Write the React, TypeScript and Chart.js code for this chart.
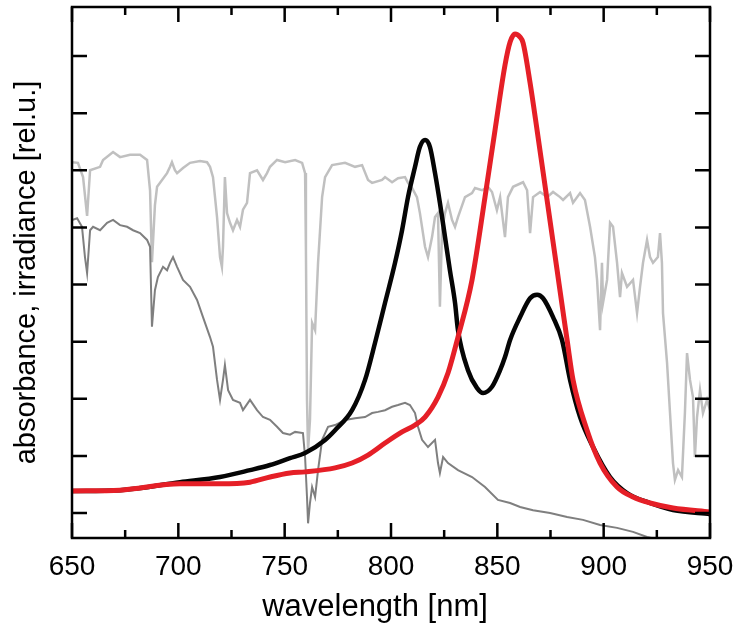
import React, { useEffect, useRef } from "react";
import { Chart, registerables } from "chart.js";

Chart.register(...registerables);

// ---- data (wavelength in nm, value in relative units; y ticks at 0..8) ----
const X_MAJOR = [650, 700, 750, 800, 850, 900, 950];
const X_MINOR = [675, 725, 775, 825, 875, 925];
const Y_TICKS = [0, 1, 2, 3, 4, 5, 6, 7, 8];

const redX = [650, 672.6, 700.8, 719.6, 733.7, 743.1, 752.5, 759.6, 773.7, 781.7, 789.2, 797.2, 805.2, 811.3, 816.0, 822.1, 826.8, 831.5, 838.1, 844.2, 848.9, 853.6, 856.0, 858.3, 860.7, 862.1, 865.4, 868.7, 871.5, 874.8, 878.1, 880.9, 882.8, 885.6, 892.2, 898.3, 906.3, 913.8, 921.8, 932.6, 950];
const redY = [0.385, 0.40, 0.51, 0.51, 0.54, 0.63, 0.70, 0.72, 0.79, 0.875, 1.015, 1.225, 1.42, 1.54, 1.68, 2.03, 2.45, 3.08, 4.08, 5.53, 6.70, 7.84, 8.245, 8.385, 8.33, 8.23, 7.53, 6.70, 5.97, 5.11, 4.25, 3.52, 3.03, 2.33, 1.45, 0.875, 0.455, 0.28, 0.175, 0.0875, 0.0175];

const blackX = [650, 672.6, 700.8, 719.6, 733.7, 743.1, 752.5, 759.6, 769.0, 773.7, 781.7, 787.8, 792.5, 797.2, 801.9, 805.2, 808.0, 811.3, 813.6, 816.0, 818.3, 820.7, 823.0, 825.4, 827.7, 830.1, 831.5, 836.2, 840.4, 843.3, 847.5, 851.3, 853.6, 856.0, 860.7, 865.4, 868.7, 871.5, 876.2, 880.4, 884.2, 888.9, 895.0, 903.0, 911.0, 921.8, 932.6, 950];
const blackY = [0.385, 0.40, 0.54, 0.63, 0.75, 0.84, 0.96, 1.05, 1.28, 1.45, 1.80, 2.33, 2.98, 3.68, 4.38, 4.95, 5.53, 6.06, 6.41, 6.53, 6.41, 5.95, 5.43, 4.83, 4.25, 3.68, 3.20, 2.50, 2.19, 2.10, 2.21, 2.50, 2.73, 3.03, 3.43, 3.76, 3.82, 3.76, 3.43, 3.03, 2.33, 1.68, 1.155, 0.63, 0.35, 0.175, 0.05, -0.02];

const lightX = [650.0, 652.8, 655.2, 657.1, 658.5, 663.2, 664.6, 669.3, 672.6, 677.3, 682.0, 685.3, 686.7, 687.6, 689.0, 690.0, 691.4, 694.7, 696.1, 697.0, 698.4, 699.4, 702.2, 705.5, 710.2, 713.5, 714.9, 716.3, 718.2, 719.6, 720.5, 721.0, 721.9, 722.9, 724.3, 725.7, 727.6, 729.0, 730.4, 732.3, 733.7, 737.0, 739.8, 741.7, 743.1, 746.4, 750.2, 754.9, 758.2, 759.6, 760.0, 760.5, 761.0, 761.9, 762.9, 764.3, 765.7, 767.6, 769.0, 772.3, 778.4, 783.1, 786.4, 789.2, 791.1, 795.8, 797.2, 800.5, 803.3, 806.6, 808.0, 809.9, 812.2, 813.6, 816.0, 817.4, 819.3, 820.7, 822.1, 823.0, 824.0, 825.4, 826.8, 828.7, 830.1, 831.5, 834.8, 838.1, 839.5, 842.8, 845.6, 847.5, 849.8, 851.3, 853.6, 855.0, 857.4, 862.1, 864.0, 865.4, 866.8, 870.1, 873.4, 876.2, 879.5, 880.9, 884.2, 885.6, 888.9, 891.2, 893.6, 895.9, 896.9, 898.3, 899.2, 899.7, 901.6, 903.0, 904.4, 906.3, 907.7, 908.6, 911.0, 913.8, 915.7, 917.1, 918.5, 920.4, 921.8, 923.2, 925.5, 926.5, 927.4, 927.9, 929.8, 931.2, 932.6, 933.5, 935.0, 936.8, 938.2, 939.2, 940.6, 942.0, 942.9, 943.9, 945.3, 946.7, 948.6, 950.0];
const lightY = [6.14, 6.13, 5.88, 5.2, 6.00, 6.06, 6.18, 6.32, 6.23, 6.27, 6.27, 6.18, 5.65, 4.39, 5.39, 5.71, 5.78, 5.95, 6.06, 6.14, 6.00, 5.95, 6.04, 6.13, 6.16, 6.14, 6.06, 5.88, 5.18, 4.48, 4.31, 4.66, 5.88, 5.25, 5.08, 4.95, 5.13, 5.01, 5.31, 5.43, 5.95, 6.00, 5.83, 5.95, 6.06, 6.18, 6.14, 6.18, 6.13, 5.95, 4.60, 1.98, 1.10, 1.63, 3.33, 3.20, 4.38, 5.53, 5.88, 6.09, 6.13, 6.06, 6.09, 5.83, 5.78, 5.83, 5.88, 5.79, 5.86, 5.88, 5.78, 5.69, 5.53, 5.25, 4.66, 4.48, 4.83, 5.18, 5.25, 3.61, 4.95, 5.25, 5.43, 5.13, 5.01, 5.18, 5.53, 5.60, 5.69, 5.65, 5.71, 5.62, 5.30, 5.53, 4.83, 5.53, 5.71, 5.79, 5.65, 4.90, 5.53, 5.62, 5.53, 5.62, 5.53, 5.48, 5.60, 5.43, 5.60, 5.48, 5.01, 4.48, 4.08, 3.20, 4.38, 3.68, 4.08, 5.08, 5.01, 4.38, 3.78, 4.20, 3.96, 4.08, 3.50, 3.96, 4.38, 4.78, 4.48, 4.38, 4.48, 4.90, 4.38, 3.50, 2.63, 1.75, 0.875, 0.58, 0.75, 0.63, 1.75, 2.80, 2.33, 2.03, 0.98, 1.68, 2.15, 1.75, 1.98, 1.80];

const darkX = [650.0, 652.4, 654.7, 656.1, 657.1, 658.5, 659.9, 663.2, 666.5, 669.3, 672.6, 675.9, 678.7, 682.0, 685.3, 686.7, 687.6, 689.0, 690.4, 692.8, 694.7, 696.1, 697.5, 699.4, 702.2, 705.5, 708.8, 711.6, 714.9, 716.3, 718.2, 719.6, 721.0, 721.9, 723.4, 725.7, 729.0, 730.4, 733.7, 737.0, 739.8, 743.1, 746.4, 749.2, 752.5, 754.9, 758.6, 759.6, 760.5, 761.0, 761.9, 762.9, 764.3, 765.7, 767.6, 770.4, 773.7, 778.4, 783.1, 787.8, 791.1, 793.9, 797.2, 800.5, 803.3, 806.6, 808.9, 811.3, 812.7, 814.6, 817.4, 820.7, 822.1, 823.0, 824.5, 826.8, 831.5, 838.1, 844.2, 850.3, 856.0, 860.7, 866.8, 874.8, 882.8, 890.3, 898.3, 906.3, 913.8, 920.4, 926.5];
const darkY = [5.13, 5.16, 5.01, 4.48, 4.20, 4.95, 5.01, 4.95, 5.08, 5.13, 5.04, 5.01, 4.95, 4.90, 4.78, 4.66, 3.26, 3.90, 4.13, 4.31, 4.25, 4.38, 4.48, 4.31, 4.08, 3.96, 3.73, 3.43, 3.08, 2.91, 2.33, 1.98, 2.33, 2.59, 2.15, 1.98, 1.93, 1.80, 1.98, 1.80, 1.68, 1.63, 1.51, 1.40, 1.37, 1.42, 1.40, 0.98, 0.28, -0.18, 0.175, 0.455, 0.28, 0.75, 1.28, 1.51, 1.54, 1.63, 1.66, 1.68, 1.75, 1.77, 1.80, 1.86, 1.89, 1.93, 1.89, 1.75, 1.51, 1.28, 1.155, 1.28, 0.875, 0.70, 0.98, 0.875, 0.75, 0.63, 0.455, 0.23, 0.175, 0.105, 0.05, 0.0, -0.07, -0.12, -0.21, -0.26, -0.33, -0.42, -0.47];

const X_TITLE = "wavelength [nm]";
const Y_TITLE = "absorbance, irradiance [rel.u.]";

const FONT_FAMILY = "'Liberation Sans', Arial, sans-serif";

function pts(xs: number[], ys: number[]) {
  return xs.map((x, i) => ({ x, y: ys[i] }));
}

const framePlugin = {
  id: "frame",
  afterDatasetsDraw(chart: any) {
    const { ctx, chartArea, scales } = chart;
    const { left, right, top, bottom } = chartArea;
    const xs = scales.x;
    const ys = scales.y;
    ctx.save();
    ctx.strokeStyle = "#000";
    ctx.lineWidth = 2.5;
    ctx.lineCap = "butt";
    ctx.beginPath();
    const tick = (x1: number, y1: number, x2: number, y2: number) => {
      ctx.moveTo(x1, y1);
      ctx.lineTo(x2, y2);
    };
    X_MAJOR.forEach((v) => {
      const p = xs.getPixelForValue(v);
      tick(p, bottom, p, bottom - 15);
      tick(p, top, p, top + 15);
    });
    X_MINOR.forEach((v) => {
      const p = xs.getPixelForValue(v);
      tick(p, bottom, p, bottom - 8);
      tick(p, top, p, top + 8);
    });
    Y_TICKS.forEach((v) => {
      const p = ys.getPixelForValue(v);
      tick(left, p, left + 15, p);
      tick(right, p, right - 15, p);
    });
    ctx.stroke();
    ctx.strokeRect(left, top, right - left, bottom - top);

    // x-axis title (slightly left of the plot centre, as in the source figure)
    ctx.fillStyle = "#000";
    ctx.font = `31px ${FONT_FAMILY}`;
    ctx.textAlign = "center";
    ctx.textBaseline = "alphabetic";
    ctx.fillText(X_TITLE, (left + right) / 2 - 16, bottom + 78);
    ctx.restore();
  },
};

export default function App() {
  const ref = useRef<HTMLCanvasElement | null>(null);
  useEffect(() => {
    if (!ref.current) return;
    const chart = new Chart(ref.current, {
      type: "line",
      data: {
        datasets: [
          {
            label: "absorbance red",
            data: pts(redX, redY),
            borderColor: "#e51f27",
            borderWidth: 5,
            pointRadius: 0,
            cubicInterpolationMode: "monotone",
            order: 0,
          },
          {
            label: "absorbance black",
            data: pts(blackX, blackY),
            borderColor: "#050505",
            borderWidth: 4.5,
            pointRadius: 0,
            cubicInterpolationMode: "monotone",
            order: 1,
          },
          {
            label: "irradiance dark",
            data: pts(darkX, darkY),
            borderColor: "#7f7f7f",
            borderWidth: 2,
            pointRadius: 0,
            tension: 0,
            order: 2,
          },
          {
            label: "irradiance light",
            data: pts(lightX, lightY),
            borderColor: "#c0c0c0",
            borderWidth: 2.5,
            pointRadius: 0,
            tension: 0,
            order: 3,
          },
        ] as any,
      },
      options: {
        responsive: false,
        animation: false,
        layout: { padding: { top: 7, right: 25, left: 0, bottom: 0 } },
        plugins: { legend: { display: false }, tooltip: { enabled: false } },
        scales: {
          x: {
            type: "linear",
            min: 650,
            max: 950,
            grid: { display: false, drawTicks: false },
            border: { display: false },
            ticks: {
              stepSize: 50,
              autoSkip: false,
              maxRotation: 0,
              padding: 12,
              color: "#000",
              font: { family: FONT_FAMILY, size: 28 },
              callback: (v: any) => String(v),
            },
            title: { display: false },
            afterFit: (s: any) => {
              s.height = 100;
              s.paddingLeft = 0;
              s.paddingRight = 0;
            },
          },
          y: {
            type: "linear",
            min: -0.4376,
            max: 8.858,
            grid: { display: false, drawTicks: false },
            border: { display: false },
            ticks: { display: false },
            title: {
              display: true,
              text: Y_TITLE,
              color: "#000",
              font: { family: FONT_FAMILY, size: 29 },
              padding: { top: 10, bottom: 0 },
            },
            afterFit: (s: any) => {
              s.width = 72;
              s.paddingTop = 0;
              s.paddingBottom = 0;
            },
          },
        },
      } as any,
      plugins: [framePlugin],
    });
    return () => chart.destroy();
  }, []);
  return (
    <div style={{ position: "fixed", left: 0, top: 0, width: 735, height: 638, background: "#fff" }}>
      <canvas ref={ref} width={735} height={638} style={{ display: "block" }} />
    </div>
  );
}
